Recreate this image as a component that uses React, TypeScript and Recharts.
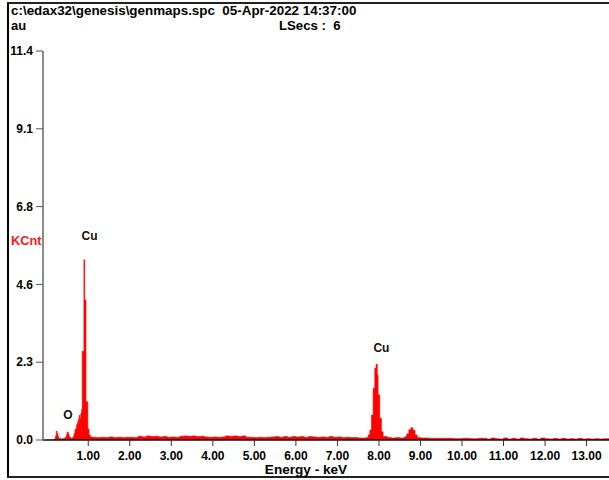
import React from 'react';
import { ComposedChart, Area, XAxis, YAxis, ReferenceDot } from 'recharts';

// Spectrum segments: [energy keV, counts KCnt]
const lowEnergyRegion: [number, number][] = [
  [0.0, 0], [0.16, 0.01], [0.19, 0.04], [0.21, 0.12], [0.23, 0.26], [0.25, 0.2], [0.27, 0.1],
  [0.29, 0.05], [0.33, 0.03], [0.37, 0.04], [0.41, 0.05], [0.45, 0.08], [0.47, 0.14],
  [0.49, 0.23], [0.52, 0.17], [0.54, 0.09], [0.57, 0.05], [0.61, 0.06], [0.64, 0.12],
  [0.66, 0.2], [0.68, 0.3], [0.7, 0.34], [0.72, 0.45], [0.74, 0.52], [0.76, 0.6],
  [0.77, 0.48], [0.78, 0.72], [0.8, 0.62], [0.82, 0.78], [0.84, 0.9],
];
const cuLRegion: [number, number][] = [
  [0.855, 2.6], [0.895, 5.28], [0.915, 4.1], [0.945, 1.12], [0.99, 0.32], [1.02, 0.15], [1.05, 0.09],
];
const backgroundRegion: [number, number][] = [
  [1.1, 0.08], [1.2, 0.07], [1.3, 0.08], [1.4, 0.07], [1.5, 0.09], [1.6, 0.07], [1.7, 0.08],
  [1.8, 0.07], [1.9, 0.08], [2.0, 0.08], [2.1, 0.07], [2.2, 0.11], [2.3, 0.09], [2.4, 0.12],
  [2.5, 0.1], [2.6, 0.11], [2.7, 0.09], [2.8, 0.1], [2.9, 0.08], [3.0, 0.09], [3.1, 0.08],
  [3.2, 0.11], [3.3, 0.12], [3.4, 0.11], [3.5, 0.12], [3.6, 0.1], [3.7, 0.11], [3.8, 0.09],
  [3.9, 0.08], [4.0, 0.09], [4.1, 0.08], [4.2, 0.09], [4.3, 0.12], [4.4, 0.11], [4.5, 0.12],
  [4.6, 0.1], [4.7, 0.12], [4.8, 0.08], [4.9, 0.08], [5.0, 0.07], [5.1, 0.08], [5.2, 0.07],
  [5.3, 0.08], [5.4, 0.09], [5.5, 0.1], [5.6, 0.08], [5.7, 0.1], [5.8, 0.08], [5.9, 0.1],
  [6.0, 0.09], [6.1, 0.1], [6.2, 0.08], [6.3, 0.1], [6.4, 0.09], [6.5, 0.08], [6.6, 0.09],
  [6.7, 0.08], [6.8, 0.1], [6.9, 0.08], [7.0, 0.09], [7.1, 0.07], [7.2, 0.08], [7.3, 0.07],
  [7.4, 0.07], [7.5, 0.06], [7.6, 0.06],
];
const cuKRegion: [number, number][] = [
  [7.69, 0.07], [7.74, 0.15], [7.78, 0.29], [7.82, 0.73], [7.86, 1.52], [7.9, 2.1],
  [7.93, 2.22], [7.96, 1.9], [7.98, 1.32], [8.02, 0.64], [8.06, 0.24], [8.1, 0.1],
  [8.2, 0.07], [8.3, 0.06], [8.4, 0.07], [8.5, 0.06], [8.6, 0.07],
  [8.63, 0.1], [8.67, 0.18], [8.72, 0.3], [8.77, 0.36], [8.82, 0.28], [8.87, 0.15], [8.92, 0.07],
];
const highEnergyRegion: [number, number][] = [
  [9.0, 0.06], [9.2, 0.05], [9.4, 0.05], [9.6, 0.05], [9.8, 0.04], [10.0, 0.05], [10.2, 0.04],
  [10.4, 0.05], [10.6, 0.03], [10.7, 0.06], [10.8, 0.04], [10.9, 0.03], [11.0, 0.06],
  [11.1, 0.03], [11.2, 0.05], [11.3, 0.03], [11.4, 0.06], [11.5, 0.04], [11.6, 0.03],
  [11.7, 0.05], [11.8, 0.03], [11.9, 0.06], [12.0, 0.04], [12.1, 0.03], [12.2, 0.05],
  [12.3, 0.03], [12.4, 0.05], [12.5, 0.03], [12.6, 0.04], [12.7, 0.03], [12.8, 0.05],
  [12.9, 0.03], [13.0, 0.04], [13.1, 0.03], [13.2, 0.04], [13.3, 0.03], [13.4, 0.04], [13.54, 0.03],
];

const xTicks = [1, 2, 3, 4, 5, 6, 7, 8, 9, 10, 11, 12, 13];
const xTickLabels = ['1.00', '2.00', '3.00', '4.00', '5.00', '6.00', '7.00', '8.00', '9.00', '10.00', '11.00', '12.00', '13.00'];
const yTicks = [0, 2.28, 4.56, 6.84, 9.12, 11.4];
const yTickLabels = ['0.0', '2.3', '4.6', '6.8', '9.1', '11.4'];

const peakLabels = [
  { e: 0.51, c: 0.73, text: 'O' },
  { e: 1.03, c: 6.0, text: 'Cu' },
  { e: 8.06, c: 2.7, text: 'Cu' },
];

const headerFile = 'c:\\edax32\\genesis\\genmaps.spc  05-Apr-2022 14:37:00';
const headerSample = 'au';
const headerLive = 'LSecs :  6';
const yUnit = 'KCnt';
const xTitle = 'Energy - keV';

const data = [
  ...lowEnergyRegion, ...cuLRegion, ...backgroundRegion, ...cuKRegion, ...highEnergyRegion,
].map(([e, c]) => ({ e, c }));

const FONT = '"Liberation Sans", Arial, sans-serif';

const txt = (left: number, top: number, size: number, color = '#000'): React.CSSProperties => ({
  position: 'absolute', left, top, font: `bold ${size}px ${FONT}`, color, whiteSpace: 'pre', lineHeight: '12px',
});

export default function App() {
  return (
    <div style={{ position: 'absolute', left: 0, top: 0, width: 609, height: 480, background: '#fff', overflow: 'hidden' }}>
      <div style={{ position: 'absolute', left: 7, top: 2, width: 2, height: 476, background: '#000' }} />
      <div style={{ position: 'absolute', left: 7, top: 2, width: 602, height: 2, background: '#222' }} />
      <div style={{ position: 'absolute', left: 7, top: 476, width: 602, height: 2, background: '#222' }} />
      <div style={txt(11, 5, 13.4)}>{headerFile}</div>
      <div style={txt(11, 20, 13)}>{headerSample}</div>
      <div style={txt(279, 20, 13.2)}>{headerLive}</div>
      <div style={txt(11, 235, 12.8, '#ff1a1a')}>{yUnit}</div>
      <div style={{ ...txt(206, 464, 13.6), width: 200, textAlign: 'center' }}>{xTitle}</div>
      <ComposedChart
        width={609}
        height={480}
        data={data}
        margin={{ top: 51, right: 0, bottom: 0, left: 0 }}
        style={{ position: 'absolute', left: 0, top: 0 }}
      >
        <XAxis
          dataKey="e"
          type="number"
          domain={[-0.09, 13.54]}
          allowDataOverflow
          ticks={xTicks}
          tickFormatter={(v: number) => xTickLabels[xTicks.indexOf(v)] ?? ''}
          height={40}
          tickSize={6}
          tickMargin={5}
          axisLine={{ stroke: '#111', strokeWidth: 1.5 }}
          tickLine={{ stroke: '#333' }}
          tick={{ fill: '#000', fontSize: 12, fontWeight: 'bold', fontFamily: FONT }}
          interval={0}
        />
        <YAxis
          type="number"
          domain={[0, 11.4]}
          allowDataOverflow
          ticks={yTicks}
          tickFormatter={(v: number) => yTickLabels[yTicks.indexOf(v)] ?? ''}
          width={43}
          tickSize={7}
          tickMargin={3}
          axisLine={{ stroke: '#666', strokeWidth: 1.5 }}
          tickLine={{ stroke: '#555' }}
          tick={{ fill: '#000', fontSize: 12, fontWeight: 'bold', fontFamily: FONT }}
          interval={0}
        />
        <Area
          type="stepAfter"
          dataKey="c"
          stroke="#ff0000"
          strokeWidth={0.6}
          fill="#ff0000"
          fillOpacity={1}
          isAnimationActive={false}
          dot={false}
          activeDot={false}
        />
        {peakLabels.map((p, i) => (
          <ReferenceDot
            key={i}
            x={p.e}
            y={p.c}
            r={0}
            fill="none"
            stroke="none"
            label={{ value: p.text, position: 'center', fill: '#111', fontSize: 12, fontWeight: 'bold', fontFamily: FONT }}
          />
        ))}
      </ComposedChart>
    </div>
  );
}
